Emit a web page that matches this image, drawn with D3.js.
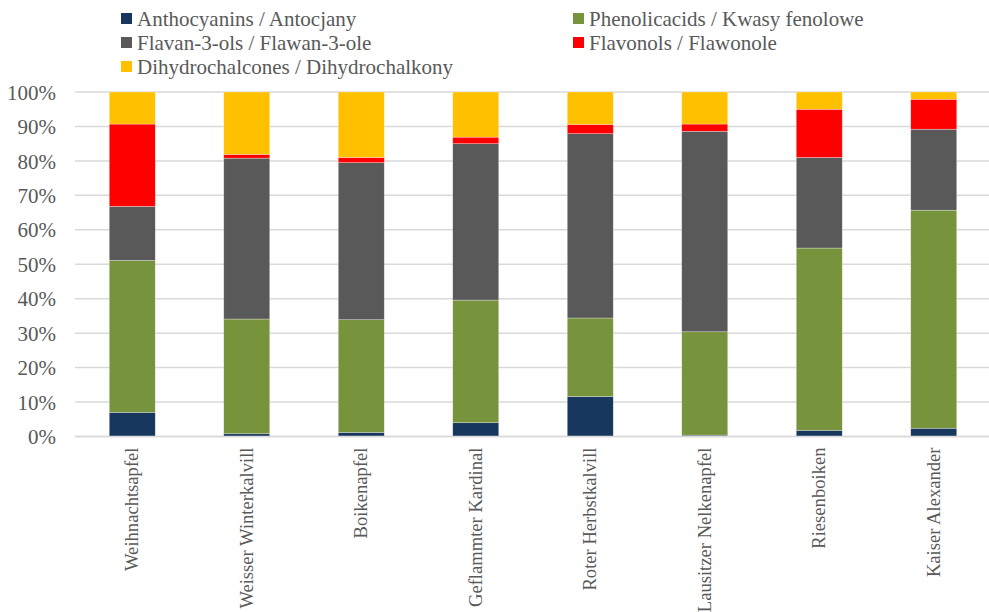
<!DOCTYPE html>
<html>
<head>
<meta charset="utf-8">
<script src="https://cdn.jsdelivr.net/npm/d3@7"></script>
<style>
  html, body { margin: 0; padding: 0; background: #fff; }
</style>
</head>
<body>
<svg id="chart" width="989" height="612"></svg>
<script>
// Apple cultivars
const categories = [
  "Weihnachtsapfel", "Weisser Winterkalvill", "Boikenapfel", "Geflammter Kardinal",
  "Roter Herbstkalvill", "Lausitzer Nelkenapfel", "Riesenboiken", "Kaiser Alexander"
];

// Share of each polyphenol group (% of total)
const anthocyanins     = [7.0, 0.8, 1.2, 4.0, 11.6, 0.4, 1.8, 2.4];
const phenolicAcids    = [44.1, 33.3, 32.7, 35.6, 22.8, 30.0, 52.9, 63.3];
const flavan3ols       = [15.7, 46.7, 45.6, 45.4, 53.5, 58.2, 26.3, 23.5];
const flavonols        = [23.9, 1.1, 1.5, 1.9, 2.7, 2.1, 14.0, 8.7];
const dihydrochalcones = [9.3, 18.1, 19.0, 13.1, 9.4, 9.3, 5.0, 2.1];

const seriesNames = [
  "Anthocyanins / Antocjany",
  "Phenolicacids / Kwasy fenolowe",
  "Flavan-3-ols / Flawan-3-ole",
  "Flavonols / Flawonole",
  "Dihydrochalcones / Dihydrochalkony"
];
const seriesColors = ["#17375E", "#77933C", "#595959", "#FF0000", "#FFC000"];

const yTicks = [0, 10, 20, 30, 40, 50, 60, 70, 80, 90, 100];

const seriesValues = [anthocyanins, phenolicAcids, flavan3ols, flavonols, dihydrochalcones];
const keys = seriesNames;
const rows = categories.map((c, i) => {
  const r = { category: c };
  const total = d3.sum(seriesValues, s => s[i]);
  keys.forEach((k, j) => r[k] = seriesValues[j][i] / total * 100);
  return r;
});

const svg = d3.select("#chart");
const serif = "Liberation Serif";
const textColor = "#595959";
const gridColor = "#d9d9d9";

const x = d3.scaleBand().domain(categories).range([75, 991]).paddingInner(0).paddingOuter(0);
const barW = 46;
const y = d3.scaleLinear().domain([0, 100]).range([436.5, 92]);

// Gridlines
svg.append("g")
  .selectAll("line")
  .data(yTicks)
  .join("line")
  .attr("x1", 75).attr("x2", 989)
  .attr("y1", d => y(d)).attr("y2", d => y(d))
  .attr("stroke", gridColor)
  .attr("stroke-width", 1.5);

// Y axis labels
const yAxis = d3.axisLeft(y).tickValues(yTicks).tickFormat(d => d + "%").tickSize(0).tickPadding(0);
svg.append("g")
  .attr("transform", "translate(56,0)")
  .call(yAxis)
  .attr("font-family", serif)
  .attr("font-size", 21)
  .call(g => g.select(".domain").remove())
  .call(g => g.selectAll("text")
    .attr("fill", textColor)
    .attr("dy", "0.34em"));

// Stacked bars
const stacked = d3.stack().keys(keys)(rows);
svg.append("g")
  .selectAll("g")
  .data(stacked)
  .join("g")
  .attr("fill", (d, i) => seriesColors[i])
  .selectAll("rect")
  .data(d => d)
  .join("rect")
  .attr("x", d => x(d.data.category) + x.bandwidth() / 2 - barW / 2)
  .attr("width", barW)
  .attr("y", d => y(d[1]))
  .attr("height", d => Math.max(0, y(d[0]) - y(d[1])))
  .attr("stroke", "#ffffff")
  .attr("stroke-opacity", 0.5)
  .attr("stroke-width", 0.6);

// X axis baseline
svg.append("line")
  .attr("x1", 75).attr("x2", 989)
  .attr("y1", y(0)).attr("y2", y(0))
  .attr("stroke", gridColor)
  .attr("stroke-width", 1.5);

// Category labels (rotated)
const xAxis = d3.axisBottom(x).tickSize(0).tickPadding(0);
svg.append("g")
  .attr("transform", `translate(0,${y(0)})`)
  .call(xAxis)
  .attr("font-family", serif)
  .attr("font-size", 18.6)
  .call(g => g.select(".domain").remove())
  .call(g => g.selectAll("text")
    .attr("fill", textColor)
    .attr("text-anchor", "end")
    .attr("transform", "rotate(-90)")
    .attr("x", -11)
    .attr("y", 0)
    .attr("dy", "0.33em"));

// Legend
const legendPos = [
  { x: 121, y: 18.5 }, { x: 573, y: 18.5 },
  { x: 121, y: 42.5 }, { x: 573, y: 42.5 },
  { x: 121, y: 66.5 }
];
const legend = svg.append("g").attr("font-family", serif).attr("font-size", 21);
seriesNames.forEach((name, i) => {
  const p = legendPos[i];
  legend.append("rect")
    .attr("x", p.x).attr("y", p.y - 5.5)
    .attr("width", 11).attr("height", 11)
    .attr("fill", seriesColors[i]);
  legend.append("text")
    .attr("x", p.x + 16).attr("y", p.y)
    .attr("dy", "0.35em")
    .attr("fill", textColor)
    .text(name);
});
</script>
</body>
</html>
